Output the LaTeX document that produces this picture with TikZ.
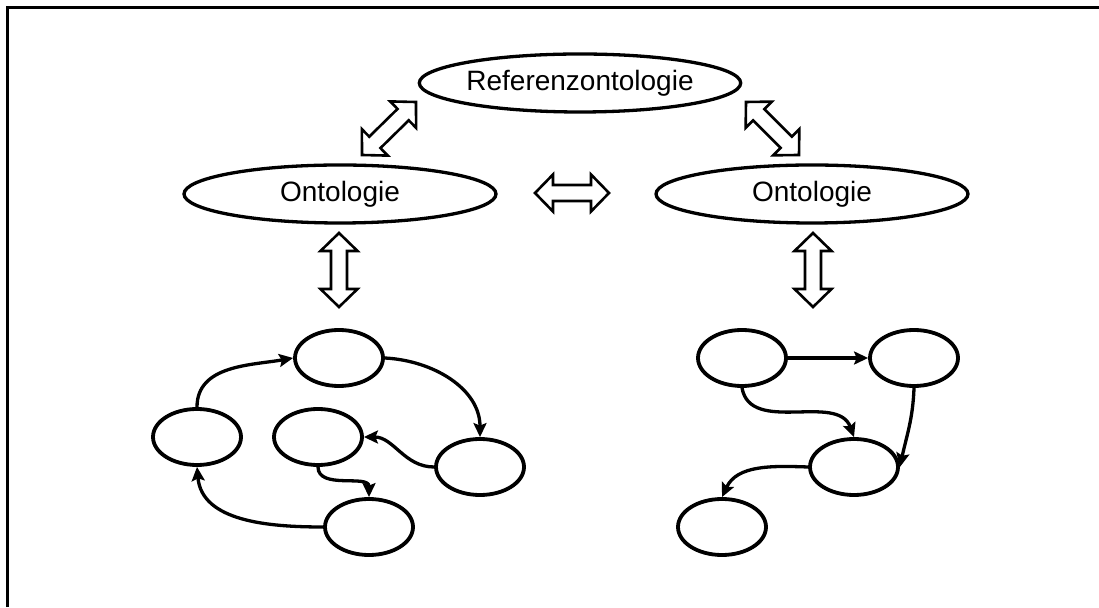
\documentclass[tikz,border=0pt]{standalone}
\usepackage{fontspec}
\setmainfont{Liberation Sans}
\usetikzlibrary{shapes.geometric,arrows.meta,calc}

% point at distance #1 along the link and #2 across it (used inside \hollowlink)
\newcommand\hp[2]{({\x1+(#1)*\n3-(#2)*\n4},{\y1+(#1)*\n4+(#2)*\n3})}
% outlined double-headed block arrow between two named points
\newcommand\hollowlink[2]{%
  \draw[hollow] let \p1=(#1), \p2=(#2),
      \n1={veclen(\x2-\x1,\y2-\y1)},
      \n2={atan2(\y2-\y1,\x2-\x1)},
      \n3={cos(\n2)}, \n4={sin(\n2)} in
    \hp{0}{0} -- \hp{18}{18.5} -- \hp{18}{8} -- \hp{\n1-18}{8} -- \hp{\n1-18}{18.5}
    -- \hp{\n1}{0} -- \hp{\n1-18}{-18.5} -- \hp{\n1-18}{-8} -- \hp{18}{-8}
    -- \hp{18}{-18.5} -- cycle;}

\begin{document}
\begin{tikzpicture}[x=1pt,y=1pt,
  bigell/.style={ellipse, draw, line width=3.3pt, minimum width=312pt,
    minimum height=58pt, inner sep=0pt, font=\fontsize{28}{34}\selectfont},
  smallell/.style={ellipse, draw, line width=3.8pt, minimum width=88pt,
    minimum height=56pt, inner sep=0pt},
  link/.style={line width=3.3pt, -{Stealth[length=14pt,width=13pt,inset=2.5pt]}},
  hollow/.style={draw, line width=2.6pt, fill=white, line join=miter},
  frame/.style={line width=3pt}]

\useasboundingbox (0,0) rectangle (1099,607);
\draw[frame] (7.5,0) -- (7.5,599.5) -- (1099,599.5);

% ontologies
\node[bigell] (ref)  at (580,524) {Referenzontologie};
\node[bigell] (ontL) at (340,413) {Ontologie};
\node[bigell] (ontR) at (812,413) {Ontologie};

% ends of the block arrows
\coordinate (dl1) at (362,452); \coordinate (dl2) at (416,505);
\coordinate (dr1) at (746,505); \coordinate (dr2) at (799,452);
\coordinate (hm1) at (535,414); \coordinate (hm2) at (609,414);
\coordinate (vl1) at (339,374); \coordinate (vl2) at (339,300);
\coordinate (vr1) at (813,374); \coordinate (vr2) at (813,300);

\hollowlink{dl1}{dl2}
\hollowlink{dr1}{dr2}
\hollowlink{hm1}{hm2}
\hollowlink{vl1}{vl2}
\hollowlink{vr1}{vr2}

% left graph
\node[smallell] (l1) at (339,249) {};
\node[smallell] (l2) at (197,170) {};
\node[smallell] (l3) at (318,170) {};
\node[smallell] (l4) at (480,140) {};
\node[smallell] (l5) at (369,80) {};

\draw[link] (l2.north) to[out=90,in=190] (l1.west);
\draw[link] (l1.east) to[out=-3,in=90] (l4.north);
\draw[link] (l4.west) to[out=180,in=0] (l3.east);
\draw[link] (l3.south) to[out=-90,in=90] (l5.north);
\draw[link] (l5.west) to[out=180,in=-85] (l2.south);

% right graph
\node[smallell] (r1) at (742,249) {};
\node[smallell] (r2) at (914,249) {};
\node[smallell] (r3) at (854,140) {};
\node[smallell] (r4) at (722,80) {};

\draw[link] (r1.east) -- (r2.west);
\draw[link] (r1.south) to[out=-80,in=110] (r3.north);
\draw[link] (r2.south) to[out=-92,in=78] (r3.east);
\draw[link] (r3.west) to[out=178,in=65] (r4.north);
\end{tikzpicture}
\end{document}
